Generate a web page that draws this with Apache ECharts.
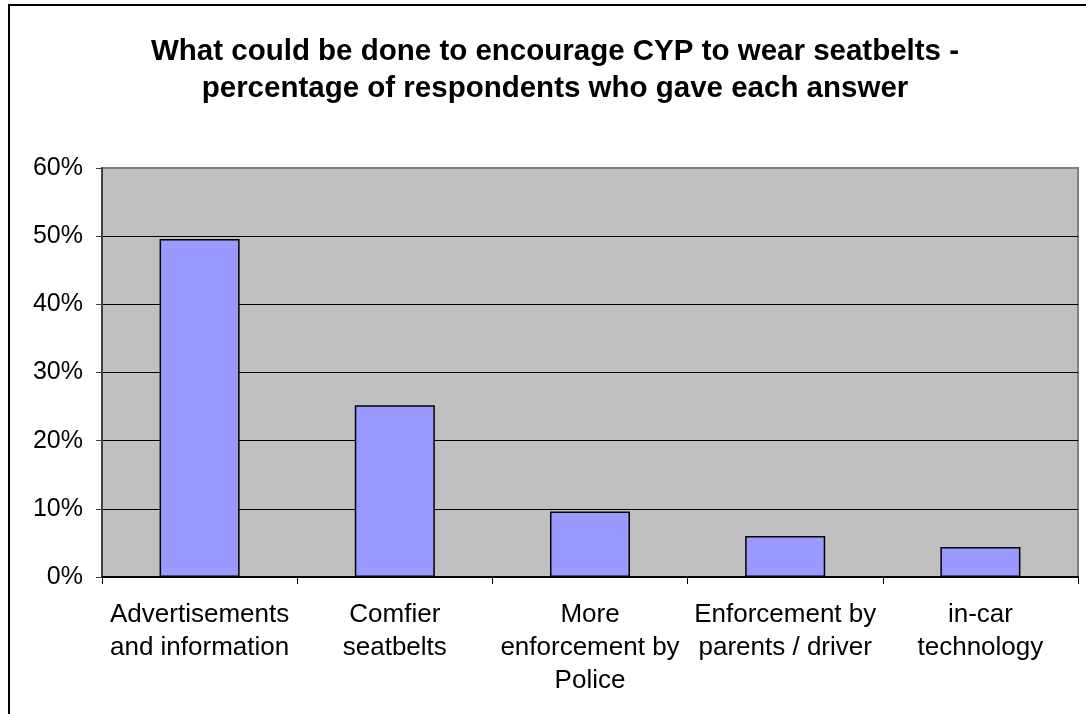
<!DOCTYPE html>
<html>
<head>
<meta charset="utf-8">
<style>
  html, body { margin: 0; padding: 0; background: #fff; }
  #main { width: 1086px; height: 714px; }
</style>
</head>
<body>
<div id="main"></div>
<script src="https://cdn.jsdelivr.net/npm/echarts@6/dist/echarts.min.js"></script>
<script>
// categories and values
var categories = [
  'Advertisements\nand information',
  'Comfier\nseatbelts',
  'More\nenforcement by\nPolice',
  'Enforcement by\nparents / driver',
  'in-car\ntechnology'
];
var shares = [49.6, 25.2, 9.6, 6.0, 4.4];
var titleLines = [
  'What could be done to encourage CYP to wear seatbelts -',
  'percentage of respondents who gave each answer'
];

var font = '"Liberation Sans", Arial, sans-serif';
var chart = echarts.init(document.getElementById('main'));

var option = {
  backgroundColor: '#fff',
  animation: false,
  title: {
    text: titleLines.join('\n'),
    left: 555,
    top: 33,
    padding: 0,
    textAlign: 'center',
    textStyle: {
      fontFamily: font,
      fontSize: 29.5,
      fontWeight: 'bold',
      color: '#000',
      lineHeight: 37
    }
  },
  graphic: [{
    type: 'polyline',
    shape: { points: [[9, 714], [9, 5], [1086, 5]] },
    style: { stroke: '#000', lineWidth: 2, fill: null }
  }],
  grid: {
    left: 102,
    right: 8,
    top: 168,
    bottom: 137,
    show: true,
    backgroundColor: '#c0c0c0',
    borderColor: '#808080',
    borderWidth: 2
  },
  xAxis: {
    type: 'category',
    data: categories,
    axisLine: { lineStyle: { color: '#000', width: 2 } },
    axisTick: { show: true, length: 7, lineStyle: { color: '#000', width: 1 } },
    axisLabel: {
      interval: 0,
      margin: 21,
      color: '#000',
      fontFamily: font,
      fontSize: 26,
      lineHeight: 33
    }
  },
  yAxis: {
    type: 'value',
    min: 0,
    max: 60,
    interval: 10,
    axisLine: { show: true, lineStyle: { color: '#404040', width: 2 } },
    axisTick: { show: true, length: 6, lineStyle: { color: '#404040', width: 1 } },
    axisLabel: {
      formatter: '{value}%',
      margin: 19,
      color: '#000',
      fontFamily: font,
      fontSize: 25
    },
    splitLine: {
      show: true,
      lineStyle: {
        color: ['#000', '#000', '#000', '#000', '#000', '#000', '#808080'],
        width: 1
      }
    }
  },
  series: [{
    type: 'bar',
    data: shares,
    barCategoryGap: '59%',
    itemStyle: {
      color: '#9999ff',
      borderColor: '#000',
      borderWidth: 1.5
    }
  }]
};

chart.setOption(option);
</script>
</body>
</html>
